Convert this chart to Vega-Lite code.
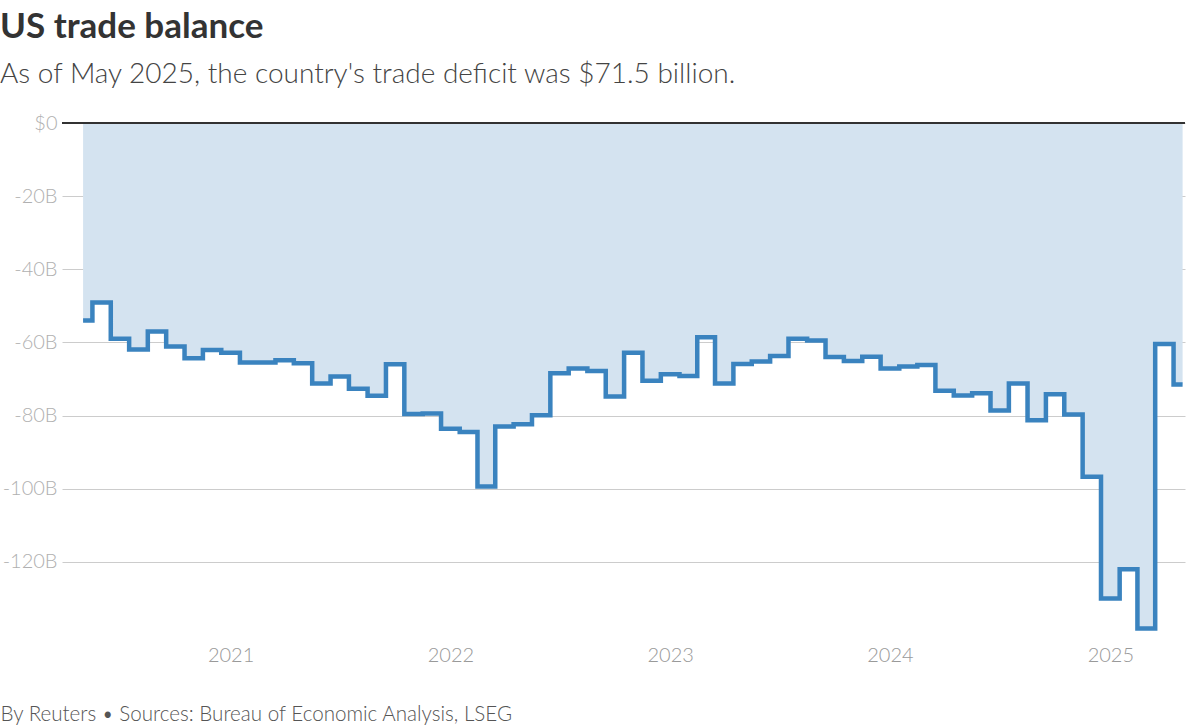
{
  "$schema": "https://vega.github.io/schema/vega-lite/v6.json",
  "width": 1123,
  "height": 512,
  "autosize": {"type": "none"},
  "padding": {"left": 62, "top": 123, "right": 15, "bottom": 91},
  "background": "white",
  "config": {"view": {"stroke": null}, "font": "Lato"},
  "title": {
    "text": "US trade balance",
    "subtitle": "As of May 2025, the country's trade deficit was $71.5 billion.",
    "anchor": "start",
    "frame": "group",
    "dx": -62,
    "offset": 24,
    "font": "Lato",
    "fontSize": 35,
    "fontWeight": "bold",
    "color": "#333333",
    "subtitleFont": "Lato",
    "subtitleFontSize": 28,
    "subtitleFontWeight": 300,
    "subtitleColor": "#444444",
    "subtitlePadding": 16
  },
  "data": {
    "values": [
      {"date": "2020-05-01", "value": -54.0},
      {"date": "2020-06-01", "value": -49.1},
      {"date": "2020-07-01", "value": -59.0},
      {"date": "2020-08-01", "value": -61.9},
      {"date": "2020-09-01", "value": -57.0},
      {"date": "2020-10-01", "value": -61.1},
      {"date": "2020-11-01", "value": -64.3},
      {"date": "2020-12-01", "value": -62.1},
      {"date": "2021-01-01", "value": -62.8},
      {"date": "2021-02-01", "value": -65.5},
      {"date": "2021-03-01", "value": -65.5},
      {"date": "2021-04-01", "value": -64.9},
      {"date": "2021-05-01", "value": -65.7},
      {"date": "2021-06-01", "value": -71.2},
      {"date": "2021-07-01", "value": -69.3},
      {"date": "2021-08-01", "value": -72.7},
      {"date": "2021-09-01", "value": -74.6},
      {"date": "2021-10-01", "value": -66.0},
      {"date": "2021-11-01", "value": -79.6},
      {"date": "2021-12-01", "value": -79.4},
      {"date": "2022-01-01", "value": -83.6},
      {"date": "2022-02-01", "value": -84.5},
      {"date": "2022-03-01", "value": -99.4},
      {"date": "2022-04-01", "value": -83.0},
      {"date": "2022-05-01", "value": -82.4},
      {"date": "2022-06-01", "value": -79.9},
      {"date": "2022-07-01", "value": -68.4},
      {"date": "2022-08-01", "value": -67.1},
      {"date": "2022-09-01", "value": -67.8},
      {"date": "2022-10-01", "value": -74.8},
      {"date": "2022-11-01", "value": -62.8},
      {"date": "2022-12-01", "value": -70.5},
      {"date": "2023-01-01", "value": -68.7},
      {"date": "2023-02-01", "value": -69.2},
      {"date": "2023-03-01", "value": -58.6},
      {"date": "2023-04-01", "value": -71.2},
      {"date": "2023-05-01", "value": -65.9},
      {"date": "2023-06-01", "value": -65.2},
      {"date": "2023-07-01", "value": -63.7},
      {"date": "2023-08-01", "value": -59.0},
      {"date": "2023-09-01", "value": -59.5},
      {"date": "2023-10-01", "value": -64.0},
      {"date": "2023-11-01", "value": -65.1},
      {"date": "2023-12-01", "value": -63.9},
      {"date": "2024-01-01", "value": -67.1},
      {"date": "2024-02-01", "value": -66.6},
      {"date": "2024-03-01", "value": -66.2},
      {"date": "2024-04-01", "value": -73.2},
      {"date": "2024-05-01", "value": -74.5},
      {"date": "2024-06-01", "value": -73.9},
      {"date": "2024-07-01", "value": -78.6},
      {"date": "2024-08-01", "value": -71.2},
      {"date": "2024-09-01", "value": -81.3},
      {"date": "2024-10-01", "value": -74.2},
      {"date": "2024-11-01", "value": -79.7},
      {"date": "2024-12-01", "value": -96.7},
      {"date": "2025-01-01", "value": -130.0},
      {"date": "2025-02-01", "value": -122.0},
      {"date": "2025-03-01", "value": -138.2},
      {"date": "2025-04-01", "value": -60.4},
      {"date": "2025-05-01", "value": -71.5}
    ]
  },
  "layer": [
    {
      "mark": {"type": "area", "interpolate": "step", "color": "#d4e3f0", "opacity": 1},
      "encoding": {
        "x": {
          "field": "date",
          "type": "temporal",
          "scale": {"domain": ["2020-03-27", "2025-05-05"]},
          "axis": {
            "format": "%Y",
            "tickCount": {"interval": "year", "step": 1},
            "domain": false,
            "ticks": false,
            "grid": false,
            "labelFont": "Lato",
            "labelFontSize": 20,
            "labelFontWeight": 300,
            "labelColor": "#999999",
            "labelPadding": 10,
            "title": "By Reuters • Sources: Bureau of Economic Analysis, LSEG",
            "titleFont": "Lato",
            "titleFontSize": 20.6,
            "titleFontWeight": 300,
            "titleColor": "#555555",
            "titleAnchor": "start",
            "titleAlign": "left",
            "titleBaseline": "alphabetic",
            "titleX": -62,
            "titleY": 85
          }
        },
        "y": {
          "field": "value",
          "type": "quantitative",
          "scale": {"domain": [-140, 0], "nice": false},
          "axis": {
            "values": [0, -20, -40, -60, -80, -100, -120],
            "labelExpr": "datum.value === 0 ? '$0' : datum.value + 'B'",
            "domain": false,
            "ticks": false,
            "grid": true,
            "gridColor": "#cccccc",
            "gridWidth": 1,
            "labelFont": "Lato",
            "labelFontSize": 20,
            "labelFontWeight": 300,
            "labelColor": "#b0b0b0",
            "labelPadding": 5,
            "title": null
          }
        },
        "y2": {"datum": 0}
      }
    },
    {
      "mark": {"type": "rule", "color": "#333333", "strokeWidth": 1.5},
      "encoding": {"y": {"datum": 0}}
    },
    {
      "mark": {"type": "line", "interpolate": "step", "color": "#3a83bf", "strokeWidth": 4.5},
      "encoding": {
        "x": {"field": "date", "type": "temporal"},
        "y": {"field": "value", "type": "quantitative"}
      }
    }
  ]
}
